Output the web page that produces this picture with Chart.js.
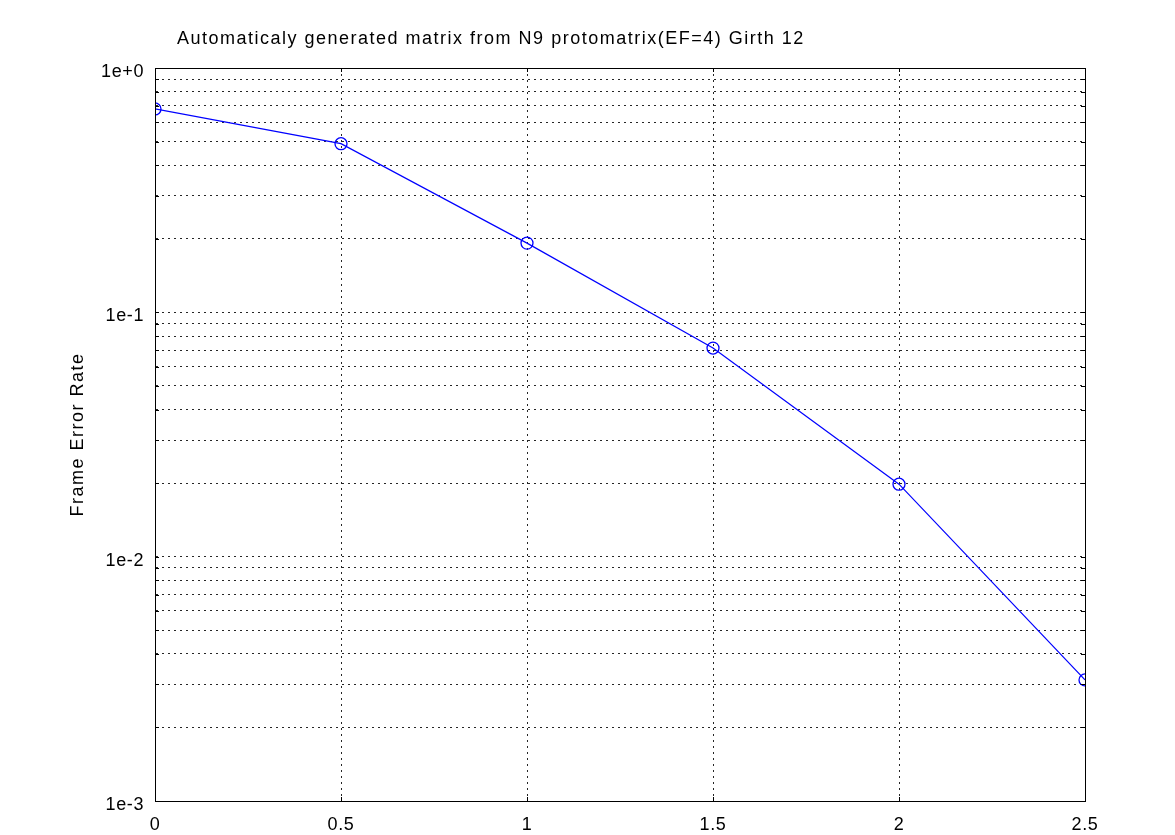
<!DOCTYPE html>
<html>
<head>
<meta charset="utf-8">
<script src="https://cdn.jsdelivr.net/npm/chart.js@4/dist/chart.umd.min.js"></script>
<style>
  html, body { margin: 0; padding: 0; background: #fff; }
  #wrap { width: 1175px; height: 835px; }
</style>
</head>
<body>
<div id="wrap"><canvas id="ferChart" width="1175" height="835"></canvas></div>
<script>
// Eb/N0 points and measured frame error rate
var snr = [0, 0.5, 1, 1.5, 2, 2.5];
var fer = [0.68, 0.49, 0.192, 0.0714, 0.0198, 0.00313];

var xTicks = [0, 0.5, 1, 1.5, 2, 2.5];
var yTicks = [0.001, 0.002, 0.003, 0.004, 0.005, 0.006, 0.007, 0.008, 0.009,
              0.01, 0.02, 0.03, 0.04, 0.05, 0.06, 0.07, 0.08, 0.09,
              0.1, 0.2, 0.3, 0.4, 0.5, 0.6, 0.7, 0.8, 0.9, 1];
var yLabelValues = [1, 0.1, 0.01, 0.001];
var yLabelText = ["1e+0", "1e-1", "1e-2", "1e-3"];

var chartTitle = "Automaticaly generated matrix from N9 protomatrix(EF=4) Girth 12";
var yTitle = "Frame Error Rate";
var fontFamily = "'Liberation Sans', Arial, sans-serif";

// the original text is set a bit loose, widen canvas text slightly
var spacingPlugin = {
    id: 'spacing',
    beforeDraw: function (chart) {
        if ('letterSpacing' in chart.ctx) chart.ctx.letterSpacing = '0.6px';
    }
};

// title sits off-centre and the axis title is loosely spaced: draw both here
var titlePlugin = {
    id: 'plotTitles',
    afterDraw: function (chart) {
        var ctx = chart.ctx, a = chart.chartArea;
        ctx.save();
        if ('letterSpacing' in ctx) ctx.letterSpacing = '1.5px';
        ctx.font = "18px " + fontFamily;
        ctx.fillStyle = '#000';
        ctx.textAlign = 'left';
        ctx.textBaseline = 'alphabetic';
        ctx.fillText(chartTitle, 177, 44);

        ctx.translate(83, (a.top + a.bottom) / 2);
        ctx.rotate(-Math.PI / 2);
        ctx.textAlign = 'center';
        ctx.fillText(yTitle, 0, 0);
        ctx.restore();
    }
};

// solid box round the plot plus small inward tick marks
var boxPlugin = {
    id: 'plotBox',
    afterDraw: function (chart) {
        var a = chart.chartArea, ctx = chart.ctx;
        var xs = chart.scales.x, ys = chart.scales.y;
        ctx.save();
        ctx.strokeStyle = '#000';
        ctx.lineWidth = 1;
        ctx.setLineDash([]);
        ctx.beginPath();
        yTicks.forEach(function (v) {
            var py = Math.round(ys.getPixelForValue(v)) + 0.5;
            ctx.moveTo(a.left, py); ctx.lineTo(a.left + 4, py);
            ctx.moveTo(a.right, py); ctx.lineTo(a.right - 4, py);
        });
        xTicks.forEach(function (v) {
            var px = Math.round(xs.getPixelForValue(v)) + 0.5;
            ctx.moveTo(px, a.bottom); ctx.lineTo(px, a.bottom - 4);
            ctx.moveTo(px, a.top); ctx.lineTo(px, a.top + 4);
        });
        ctx.stroke();
        ctx.strokeRect(Math.round(a.left) + 0.5, Math.round(a.top) + 0.5,
                       Math.round(a.right - a.left), Math.round(a.bottom - a.top));
        ctx.restore();
    }
};

var ctx = document.getElementById('ferChart').getContext('2d');
var ferChart = new Chart(ctx, {
    type: 'line',
    data: {
        datasets: [{
            data: snr.map(function (x, i) { return { x: x, y: fer[i] }; }),
            borderColor: '#0000ff',
            borderWidth: 1.2,
            backgroundColor: 'rgba(0,0,0,0)',
            pointRadius: 6,
            pointHoverRadius: 6,
            pointBorderColor: '#0000ff',
            pointBackgroundColor: 'rgba(0,0,0,0)',
            pointBorderWidth: 1.3,
            tension: 0,
            fill: false
        }]
    },
    options: {
        responsive: false,
        animation: false,
        events: [],
        layout: { padding: { top: 68, right: 90, left: 0, bottom: 0 } },
        plugins: {
            legend: { display: false },
            tooltip: { enabled: false },
            title: { display: false }
        },
        scales: {
            x: {
                type: 'linear',
                min: 0,
                max: 2.5,
                afterBuildTicks: function (scale) {
                    scale.ticks = xTicks.map(function (v) { return { value: v }; });
                },
                afterFit: function (scale) { scale.height = 34; },
                ticks: {
                    color: '#000',
                    padding: 13,
                    maxRotation: 0,
                    font: { family: fontFamily, size: 18 },
                    callback: function (v) { return String(v); }
                },
                grid: { color: 'rgba(0,0,0,0.85)', drawTicks: false, lineWidth: 1 },
                border: { display: true, color: '#000', dash: [2, 4] }
            },
            y: {
                type: 'logarithmic',
                min: 0.001,
                max: 1,
                afterBuildTicks: function (scale) {
                    scale.ticks = yTicks.map(function (v) { return { value: v }; });
                },
                afterFit: function (scale) { scale.width = 155; },
                ticks: {
                    color: '#000',
                    padding: 11,
                    labelOffset: 4,
                    autoSkip: false,
                    font: { family: fontFamily, size: 18 },
                    callback: function (v) {
                        for (var i = 0; i < yLabelValues.length; i++) {
                            if (Math.abs(v - yLabelValues[i]) < yLabelValues[i] * 1e-6) return yLabelText[i];
                        }
                        return '';
                    }
                },
                grid: { color: 'rgba(0,0,0,0.85)', drawTicks: false, lineWidth: 1 },
                border: { display: true, color: '#000', dash: [2, 4] }
            }
        }
    },
    plugins: [spacingPlugin, titlePlugin, boxPlugin]
});
</script>
</body>
</html>
